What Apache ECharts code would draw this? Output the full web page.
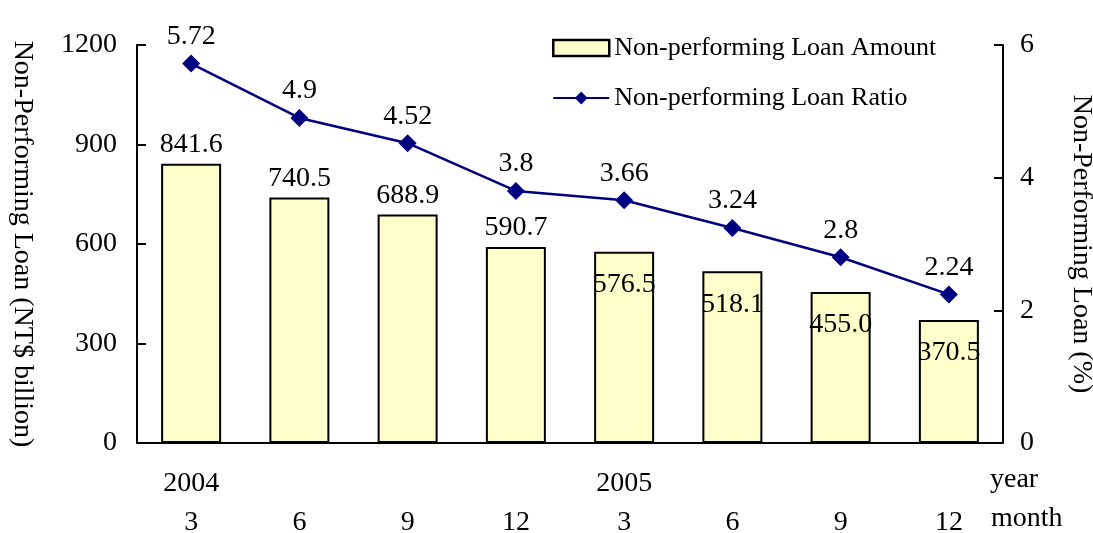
<html lang="en">
<head>
  <meta charset="utf-8"/>
  <script src="https://cdn.jsdelivr.net/npm/echarts@6/dist/echarts.min.js"></script>
  <style>
    html, body { margin: 0; padding: 0; background: #fff; }
    #chart { width: 1093px; height: 533px; }
  </style>
</head>
<body>
<div id="chart"></div>
<script>
    // data
    var years = ['2004', '', '', '', '2005', '', '', ''];
    var months = ['3', '6', '9', '12', '3', '6', '9', '12'];
    var loanAmount = [841.6, 740.5, 688.9, 590.7, 576.5, 518.1, 455.0, 370.5];
    var loanRatio = [5.72, 4.9, 4.52, 3.8, 3.66, 3.24, 2.8, 2.24];
    var leftTicks = [0, 300, 600, 900, 1200];
    var rightTicks = [0, 2, 4, 6];

    var categories = [];
    for (var i = 0; i < months.length; i++) {
        categories.push(years[i] + '\n' + months[i]);
    }

    var font = 'Liberation Serif, Times New Roman, serif';
    var fs = 28;
    var txt = { color: '#000', fontFamily: font, fontSize: fs };

    // bar labels: first four above the bar, the rest inside the top
    var barData = loanAmount.map(function (v, i) {
        return {
            value: v,
            label: i < 4 ? { position: 'top', distance: 5 } : { position: 'insideTop', distance: 19 }
        };
    });

    var myChart = echarts.init(document.getElementById('chart'));
    var option = {
        animation: false,
        backgroundColor: '#fff',
        grid: { left: 137, right: 90, top: 45, bottom: 90, outerBoundsMode: 'none', containLabel: false },
        legend: {
            orient: 'vertical',
            left: 547,
            top: 30,
            itemWidth: 56,
            itemHeight: 16,
            itemGap: 24,
            textStyle: { color: '#000', fontFamily: font, fontSize: 26 },
            data: [
                { name: 'Non-performing Loan Amount', icon: 'rect', itemStyle: { borderWidth: 2.5, borderColor: '#000' } },
                { name: 'Non-performing Loan Ratio' }
            ]
        },
        xAxis: {
            type: 'category',
            data: categories,
            axisLine: { lineStyle: { color: '#000', width: 2 } },
            axisTick: { show: false },
            axisLabel: { color: '#000', fontFamily: font, fontSize: fs, lineHeight: 39, margin: 21, interval: 0 }
        },
        yAxis: [
            {
                type: 'value',
                min: leftTicks[0],
                max: leftTicks[leftTicks.length - 1],
                interval: 300,
                name: 'Non-Performing Loan (NT$ billion)',
                nameLocation: 'middle',
                nameRotate: -90,
                nameGap: 101,
                nameTextStyle: txt,
                axisLine: { show: true, lineStyle: { color: '#000', width: 2 } },
                axisTick: { show: true, inside: true, length: 9, lineStyle: { color: '#000', width: 2 } },
                axisLabel: { color: '#000', fontFamily: font, fontSize: fs, margin: 20, formatter: function (v) { return String(v); } },
                splitLine: { show: false }
            },
            {
                type: 'value',
                min: rightTicks[0],
                max: rightTicks[rightTicks.length - 1],
                interval: 2,
                name: 'Non-Performing Loan (%)',
                nameLocation: 'middle',
                nameRotate: -90,
                nameGap: 64,
                nameTextStyle: txt,
                axisLine: { show: true, lineStyle: { color: '#000', width: 2 } },
                axisTick: { show: true, inside: true, length: 9, lineStyle: { color: '#000', width: 2 } },
                axisLabel: { color: '#000', fontFamily: font, fontSize: fs, margin: 17 },
                splitLine: { show: false }
            }
        ],
        series: [
            {
                name: 'Non-performing Loan Amount',
                type: 'bar',
                yAxisIndex: 0,
                barWidth: 60,
                data: barData,
                itemStyle: { color: '#FFFFCC', borderColor: '#000', borderWidth: 2 },
                label: {
                    show: true,
                    color: '#000',
                    fontFamily: font,
                    fontSize: fs,
                    formatter: function (p) { return p.value.toFixed(1); }
                }
            },
            {
                name: 'Non-performing Loan Ratio',
                type: 'line',
                yAxisIndex: 1,
                data: loanRatio,
                symbol: 'diamond',
                symbolSize: 18,
                lineStyle: { color: '#000080', width: 2.5 },
                itemStyle: { color: '#000080' },
                label: {
                    show: true,
                    position: 'top',
                    distance: 4,
                    color: '#000',
                    fontFamily: font,
                    fontSize: fs
                }
            }
        ],
        graphic: [
            { type: 'text', left: 990, top: 466, style: { text: 'year', fill: '#000', font: fs + 'px ' + font } },
            { type: 'text', left: 991, top: 505, style: { text: 'month', fill: '#000', font: fs + 'px ' + font } }
        ]
    };
    myChart.setOption(option);
</script>
</body>
</html>
